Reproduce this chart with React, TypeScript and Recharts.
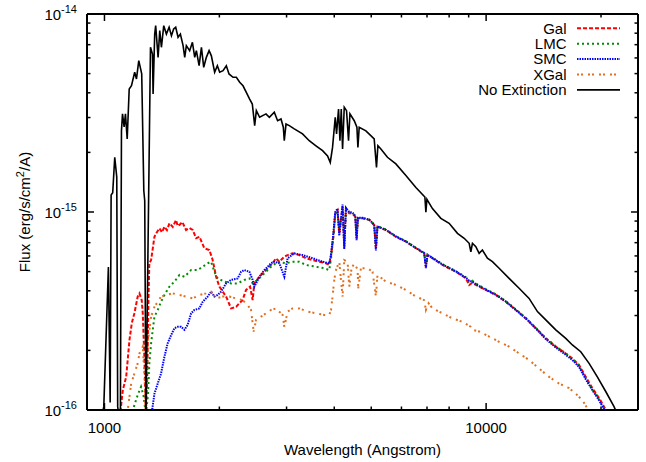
import React from "react";
import { LineChart, Line, XAxis, YAxis, Legend } from "recharts";

// flux values below are in units of 1e-16 erg/s/cm^2/A
const FLUX_UNIT = 1e-16;

// [wavelength (Angstrom), flux]
const NO_EXTINCTION: [number, number][] = [
  [980, 0.9], [996, 1.04], [1024, 5.27], [1035, 1.09], [1041, 12.2], [1051, 12.5], [1064, 18.9],
  [1077, 15.0], [1083, 1.04], [1091, 0.94], [1101, 0.98], [1108, 25.7], [1115, 31.3], [1126, 26.9],
  [1135, 31.3], [1147, 23.4], [1161, 41.8], [1177, 43.4], [1200, 50.8], [1213, 47.0], [1230, 58.1],
  [1252, 49.8], [1268, 12.8], [1275, 11.4], [1284, 0.89], [1320, 67.9], [1336, 62.8], [1341, 39.4],
  [1354, 79.2], [1362, 87.3], [1382, 60.4], [1396, 82.4], [1410, 67.9], [1430, 87.3], [1453, 79.2],
  [1477, 85.7], [1498, 77.7], [1518, 84.0], [1537, 85.7], [1559, 76.3], [1581, 79.2], [1607, 69.2],
  [1623, 60.4], [1639, 69.2], [1672, 65.3], [1700, 71.9], [1724, 60.4], [1741, 65.3], [1770, 54.8],
  [1795, 67.9], [1820, 53.8], [1849, 60.4], [1880, 65.3], [1906, 61.5], [1944, 50.8], [1976, 54.8],
  [2004, 50.8], [2045, 51.7], [2086, 54.8], [2120, 49.8], [2172, 47.9], [2216, 47.9], [2261, 45.2],
  [2307, 43.4], [2353, 40.2], [2401, 37.2], [2440, 35.1], [2475, 27.3], [2500, 32.5], [2550, 30.1],
  [2650, 31.3], [2704, 30.1], [2786, 31.9], [2842, 28.9], [2901, 29.5], [2942, 26.8], [2959, 22.9],
  [2990, 27.8], [3050, 27.3], [3143, 26.3], [3304, 24.8], [3440, 22.9], [3582, 21.6], [3728, 20.4],
  [3842, 19.2], [3905, 17.8], [3959, 21.2], [4024, 30.1], [4056, 24.8], [4105, 33.1], [4140, 22.9],
  [4173, 33.1], [4206, 20.8], [4249, 33.8], [4308, 32.5], [4360, 22.9], [4397, 31.3], [4513, 28.9],
  [4586, 26.8], [4614, 21.2], [4650, 26.8], [4842, 25.7], [5090, 23.4], [5161, 16.8], [5205, 21.6],
  [5300, 20.8], [5514, 18.9], [5802, 17.5], [6163, 15.3], [6546, 13.3], [6911, 11.9], [6953, 9.97],
  [6996, 11.6], [7234, 10.4], [7610, 9.29], [8000, 8.77], [8412, 7.8], [8760, 7.37], [9027, 6.95],
  [9120, 6.3], [9208, 6.95], [9398, 6.68], [9588, 6.18], [9779, 6.43], [10078, 5.84], [10387, 5.61],
  [10815, 5.2], [11487, 4.62], [12201, 4.12], [12959, 3.66], [13628, 3.14], [14332, 2.85],
  [15222, 2.54], [16168, 2.3], [16826, 2.13], [17697, 1.97], [18610, 1.72], [19561, 1.47],
  [20577, 1.24], [21634, 1.04], [22300, 0.91],
];

const GAL: [number, number][] = [
  [1101, 0.98], [1117, 1.26], [1140, 1.47], [1163, 2.26], [1179, 2.74], [1198, 3.08], [1222, 3.74],
  [1235, 3.88], [1252, 3.59], [1260, 3.08], [1273, 1.79], [1283, 0.94], [1294, 1.42], [1304, 3.59],
  [1311, 5.51], [1325, 5.72], [1352, 7.5], [1366, 7.8], [1393, 8.27], [1415, 7.9], [1436, 8.43],
  [1458, 8.1], [1480, 8.77], [1510, 8.4], [1540, 9.11], [1556, 8.5], [1572, 8.6], [1600, 8.9],
  [1636, 8.11], [1670, 8.3], [1703, 8.11], [1739, 7.37], [1773, 7.5], [1827, 6.56], [1883, 6.43],
  [1921, 5.72], [1961, 4.71], [2000, 4.2], [2083, 3.74], [2147, 3.26], [2213, 3.32], [2256, 3.46],
  [2301, 3.59], [2350, 4.04], [2407, 4.2], [2445, 3.59], [2470, 4.36], [2546, 4.71], [2651, 5.09],
  [2758, 5.51], [2815, 5.84], [2872, 5.61], [2960, 5.95], [3019, 6.06], [3110, 6.18], [3239, 6.06],
  [3373, 5.84], [3510, 5.72], [3655, 5.61], [3805, 5.51], [3882, 5.4], [3922, 5.95], [3977, 7.5],
  [4024, 9.85], [4080, 10.2], [4123, 7.8], [4206, 10.6], [4249, 6.68], [4293, 10.4], [4379, 9.85],
  [4467, 9.85], [4541, 9.47], [4577, 7.37], [4614, 9.29], [4745, 9.29], [4940, 9.11], [5090, 8.6],
  [5143, 6.56], [5192, 8.43], [5462, 8.11], [5802, 7.5], [6163, 7.08], [6546, 6.56], [6882, 6.18],
  [6953, 5.29], [7020, 6.06], [7234, 5.84], [7684, 5.4], [8332, 4.99], [8850, 4.62], [9027, 4.28],
  [9192, 4.38], [9398, 4.28], [9982, 4.04], [10602, 3.81], [11261, 3.52], [11962, 3.2],
  [12706, 2.9], [13496, 2.59], [14332, 2.3], [15222, 2.09], [16168, 1.93], [16826, 1.82],
  [17517, 1.69], [18239, 1.47], [18982, 1.29], [19762, 1.15], [20369, 1.04], [21000, 0.93],
];

const LMC: [number, number][] = [
  [1184, 0.98], [1198, 1.06], [1222, 1.19], [1247, 1.31], [1265, 1.19], [1284, 0.95], [1300, 1.19],
  [1311, 1.72], [1325, 2.17], [1338, 2.54], [1352, 2.96], [1379, 3.2], [1407, 3.52], [1436, 3.81],
  [1480, 4.2], [1525, 4.45], [1572, 4.81], [1620, 4.71], [1687, 5.09], [1755, 5.09], [1809, 5.29],
  [1864, 5.51], [1903, 5.61], [1941, 4.99], [1980, 4.62], [2061, 4.45], [2147, 4.36], [2234, 4.36],
  [2326, 4.54], [2397, 4.62], [2445, 4.36], [2519, 4.54], [2624, 4.9], [2732, 5.29], [2842, 5.61],
  [2990, 5.51], [3110, 5.61], [3239, 5.61], [3373, 5.4], [3582, 5.29], [3766, 5.2], [3882, 5.09],
  [3922, 5.8], [3977, 7.4], [4024, 9.6], [4080, 10.0], [4123, 8.2], [4206, 10.4], [4249, 7.0],
  [4293, 10.2], [4379, 9.9], [4467, 9.8], [4541, 9.5], [4577, 7.6], [4614, 9.3], [4745, 9.3],
  [4940, 9.15], [5090, 8.65], [5143, 6.8], [5192, 8.5], [5462, 8.15], [5802, 7.55], [6163, 7.12],
  [6546, 6.6], [6882, 6.22], [6953, 5.5], [7020, 6.1], [7234, 5.88], [7684, 5.45], [8332, 5.03],
  [8850, 4.68], [9027, 4.45], [9192, 4.5], [9398, 4.35], [9982, 4.08], [10602, 3.84],
  [11261, 3.55], [11962, 3.22], [12706, 2.92], [13496, 2.6], [14332, 2.31], [15222, 2.1],
  [16168, 1.93], [16826, 1.81], [17517, 1.67], [18239, 1.45], [18982, 1.27], [19762, 1.13],
  [20369, 1.02], [21000, 0.92],
];

const SMC: [number, number][] = [
  [1331, 0.98], [1352, 1.21], [1379, 1.36], [1407, 1.53], [1436, 1.86], [1464, 2.17], [1495, 2.39],
  [1525, 2.59], [1556, 2.63], [1588, 2.63], [1620, 2.54], [1652, 2.69], [1687, 3.08], [1720, 3.2],
  [1773, 3.26], [1809, 3.52], [1864, 3.74], [1903, 3.96], [1941, 3.74], [1980, 3.81], [2021, 3.96],
  [2083, 4.36], [2147, 4.54], [2234, 4.62], [2280, 4.99], [2326, 5.09], [2397, 4.99], [2445, 4.54],
  [2470, 4.2], [2496, 4.36], [2546, 4.71], [2624, 5.09], [2732, 5.51], [2786, 5.61], [2872, 5.51],
  [2960, 4.71], [3019, 5.84], [3143, 6.18], [3304, 6.06], [3510, 5.84], [3728, 5.61], [3882, 5.51],
  [3922, 6.1], [3977, 7.7], [4024, 10.0], [4080, 10.4], [4123, 7.6], [4206, 10.9], [4249, 6.5],
  [4293, 10.5], [4379, 10.0], [4467, 9.95], [4541, 9.55], [4577, 7.2], [4614, 9.35], [4745, 9.35],
  [4940, 9.15], [5090, 8.62], [5143, 6.4], [5192, 8.45], [5462, 8.13], [5802, 7.52], [6163, 7.1],
  [6546, 6.58], [6882, 6.2], [6953, 5.2], [7020, 6.08], [7234, 5.86], [7684, 5.43], [8332, 5.01],
  [8850, 4.66], [9027, 4.5], [9192, 4.45], [9398, 4.32], [9982, 4.05], [10602, 3.82],
  [11261, 3.53], [11962, 3.2], [12706, 2.9], [13496, 2.58], [14332, 2.28], [15222, 2.07],
  [16168, 1.9], [16826, 1.79], [17517, 1.65], [18239, 1.43], [18982, 1.26], [19762, 1.12],
  [20369, 1.01], [21000, 0.91],
];

const XGAL: [number, number][] = [
  [1149, 0.98], [1175, 1.36], [1198, 1.53], [1222, 1.72], [1235, 1.93], [1260, 2.09], [1273, 1.5],
  [1284, 0.95], [1298, 2.17], [1325, 2.96], [1352, 3.32], [1379, 3.52], [1407, 3.74], [1450, 3.81],
  [1510, 3.88], [1572, 3.81], [1636, 3.74], [1703, 3.66], [1773, 3.81], [1846, 3.88], [1903, 3.96],
  [1961, 3.66], [2041, 3.74], [2124, 3.74], [2213, 3.66], [2301, 3.59], [2372, 3.39], [2421, 3.2],
  [2460, 2.49], [2496, 2.85], [2572, 2.96], [2651, 3.08], [2732, 3.2], [2815, 3.26], [2930, 3.02],
  [2960, 2.63], [3019, 3.14], [3110, 3.26], [3239, 3.26], [3405, 3.14], [3582, 3.08], [3766, 3.02],
  [3882, 3.02], [3922, 3.2], [3959, 3.74], [4000, 4.54], [4042, 5.09], [4123, 5.61], [4206, 3.74],
  [4249, 5.72], [4335, 5.61], [4379, 4.2], [4451, 5.4], [4604, 5.2], [4623, 4.12], [4699, 5.2],
  [4890, 5.2], [5040, 4.99], [5143, 3.74], [5192, 4.81], [5462, 4.45], [5802, 4.28], [6163, 4.04],
  [6546, 3.74], [6882, 3.59], [6953, 3.2], [7064, 3.46], [7234, 3.26], [7684, 3.08], [8166, 2.9],
  [8670, 2.79], [9120, 2.63], [9208, 2.54], [9588, 2.49], [10183, 2.35], [10815, 2.21],
  [11487, 2.09], [12201, 1.93], [12959, 1.79], [13760, 1.62], [14620, 1.47], [15530, 1.36],
  [16500, 1.29], [17170, 1.21], [17870, 1.12], [18420, 1.02], [18720, 0.94],
];

const X_MAJOR = [1000, 10000];
const X_MINOR = [2000, 3000, 4000, 5000, 6000, 7000, 8000, 9000, 20000];
const Y_MAJOR = [1e-16, 1e-15, 1e-14];
const Y_MINOR = [
  2e-16, 3e-16, 4e-16, 5e-16, 6e-16, 7e-16, 8e-16, 9e-16,
  2e-15, 3e-15, 4e-15, 5e-15, 6e-15, 7e-15, 8e-15, 9e-15,
];

const X_DOMAIN = [900, 25000];
const Y_DOMAIN = [1e-16, 1e-14];

const toRows = (pts: [number, number][]) => pts.map(([w, f]) => ({ w, f: f * FLUX_UNIT }));

const SERIES = [
  { name: "Gal", points: GAL, color: "#ff0000", dash: "4 2", width: 2 },
  { name: "LMC", points: LMC, color: "#008c00", dash: "2 3", width: 2 },
  { name: "SMC", points: SMC, color: "#0000ff", dash: "1.5 1", width: 2 },
  { name: "XGal", points: XGAL, color: "#e07020", dash: "2 2 2 5", width: 2 },
  { name: "No Extinction", points: NO_EXTINCTION, color: "#000000", dash: undefined, width: 1.6 },
];

const FONT = "'Liberation Sans', Arial, Helvetica, sans-serif";
const MAJOR_LEN = 7;
const MINOR_LEN = 3.5;

const X_TICKS = [...X_MAJOR, ...X_MINOR].sort((a, b) => a - b);
const Y_TICKS = [...Y_MAJOR, ...Y_MINOR].sort((a, b) => a - b);

const isMajorY = (v: number) => {
  const e = Math.log10(v);
  return Math.abs(e - Math.round(e)) < 1e-6;
};

function BottomTick({ x, y, payload }: any) {
  const major = X_MAJOR.includes(payload.value);
  return (
    <g>
      <line x1={x} x2={x} y1={y} y2={y - (major ? MAJOR_LEN : MINOR_LEN)} stroke="#000" strokeWidth={1.5} />
      {major && (
        <text x={x} y={y + 23} textAnchor="middle" fontSize={15} fontFamily={FONT} fill="#000">
          {payload.value}
        </text>
      )}
    </g>
  );
}

function TopTick({ x, y, payload }: any) {
  const major = X_MAJOR.includes(payload.value);
  return <line x1={x} x2={x} y1={y} y2={y + (major ? MAJOR_LEN : MINOR_LEN)} stroke="#000" strokeWidth={1.5} />;
}

function LeftTick({ x, y, payload }: any) {
  const major = isMajorY(payload.value);
  const exp = Math.round(Math.log10(payload.value));
  return (
    <g>
      <line x1={x} x2={x + (major ? MAJOR_LEN : MINOR_LEN)} y1={y} y2={y} stroke="#000" strokeWidth={1.5} />
      {major && (
        <text x={x - 10} y={y + 6} textAnchor="end" fontSize={15} fontFamily={FONT} fill="#000">
          10
          <tspan dy={-7} fontSize={11}>{exp}</tspan>
        </text>
      )}
    </g>
  );
}

function RightTick({ x, y, payload }: any) {
  const major = isMajorY(payload.value);
  return <line x1={x} x2={x - (major ? MAJOR_LEN : MINOR_LEN)} y1={y} y2={y} stroke="#000" strokeWidth={1.5} />;
}

function XTitle({ viewBox }: any) {
  const { x, y, width } = viewBox;
  return (
    <text x={x + width / 2} y={y + 45} textAnchor="middle" fontSize={15} fontFamily={FONT} fill="#000">
      Wavelength (Angstrom)
    </text>
  );
}

function YTitle({ viewBox }: any) {
  const { x, y, height } = viewBox;
  const cx = x - 56;
  const cy = y + height / 2;
  return (
    <text
      x={cx}
      y={cy}
      transform={`rotate(-90 ${cx} ${cy})`}
      textAnchor="middle"
      fontSize={15}
      fontFamily={FONT}
      fill="#000"
    >
      Flux (erg/s/cm
      <tspan dy={-6} fontSize={11}>2</tspan>
      <tspan dy={6}>/A)</tspan>
    </text>
  );
}

// gnuplot-style key: right-aligned names followed by a line sample
function KeyBox() {
  return (
    <svg width={220} height={84} style={{ display: "block" }}>
      {SERIES.map((s, i) => {
        const cy = 10.3 + i * 15.4;
        return (
          <g key={s.name}>
            <text x={146.5} y={cy + 5.3} textAnchor="end" fontSize={15} fontFamily={FONT} fill="#000">
              {s.name}
            </text>
            <line
              x1={157}
              x2={200}
              y1={cy}
              y2={cy}
              stroke={s.color}
              strokeWidth={s.width}
              strokeDasharray={s.dash}
            />
          </g>
        );
      })}
    </svg>
  );
}

// axes are 1px thick so they render but take no room; ticks point inward
const axisCommon = {
  type: "number" as const,
  scale: "log" as const,
  allowDataOverflow: true,
  interval: 0 as const,
  tickSize: 0,
  tickMargin: 0,
  tickLine: false,
  axisLine: { stroke: "#000", strokeWidth: 2 },
};

export default function App() {
  return (
    <div style={{ position: "absolute", left: 0, top: 0, width: 646, height: 462, background: "#fff" }}>
      <LineChart width={646} height={462} margin={{ top: 13, right: 7, bottom: 51, left: 86 }}>
        <XAxis
          {...axisCommon}
          xAxisId="x"
          dataKey="w"
          domain={X_DOMAIN}
          ticks={X_TICKS}
          height={1}
          tick={<BottomTick />}
          label={{ content: XTitle }}
        />
        <XAxis
          {...axisCommon}
          xAxisId="top"
          orientation="top"
          dataKey="w"
          domain={X_DOMAIN}
          ticks={X_TICKS}
          height={1}
          tick={<TopTick />}
        />
        <YAxis
          {...axisCommon}
          yAxisId="y"
          domain={Y_DOMAIN}
          ticks={Y_TICKS}
          width={1}
          tick={<LeftTick />}
          label={{ content: YTitle }}
        />
        <YAxis
          {...axisCommon}
          yAxisId="right"
          orientation="right"
          domain={Y_DOMAIN}
          ticks={Y_TICKS}
          width={1}
          tick={<RightTick />}
        />
        {SERIES.map((s) => (
          <Line
            key={s.name}
            name={s.name}
            xAxisId="x"
            yAxisId="y"
            data={toRows(s.points)}
            dataKey="f"
            type="linear"
            stroke={s.color}
            strokeWidth={s.width}
            strokeDasharray={s.dash}
            dot={false}
            activeDot={false}
            isAnimationActive={false}
          />
        ))}
        <Legend
          content={<KeyBox />}
          layout="vertical"
          align="center"
          verticalAlign="middle"
          wrapperStyle={{ left: 420, top: 18, width: 220, height: 84 }}
        />
      </LineChart>
    </div>
  );
}
